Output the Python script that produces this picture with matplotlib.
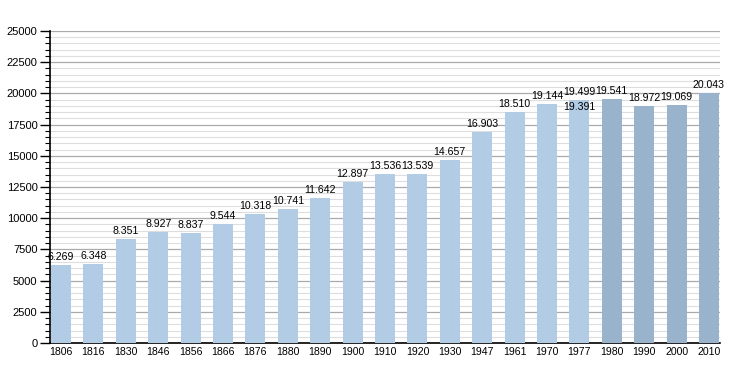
import matplotlib.pyplot as plt
from matplotlib.ticker import MultipleLocator

years = ["1806", "1816", "1830", "1846", "1856", "1866", "1876", "1880", "1890",
         "1900", "1910", "1920", "1930", "1947", "1961", "1970", "1977", "1980",
         "1990", "2000", "2010"]
population = [6269, 6348, 8351, 8927, 8837, 9544, 10318, 10741, 11642,
              12897, 13536, 13539, 14657, 16903, 18510, 19144, 19499, 19541,
              18972, 19069, 20043]
# second value for 1977 (shown inside the bar)
extra_year = "1977"
extra_value = 19391

LIGHT = "#b3cce6"
DARK = "#99b3cc"


def fmt(v):
    return f"{v:,}".replace(",", ".")


def main():
    plt.rcParams["font.family"] = ["Liberation Sans", "DejaVu Sans"]
    fig = plt.figure(figsize=(7.5, 3.73), dpi=100)
    ax = fig.add_axes([0.0667, 0.0804, 0.8933, 0.8365])

    x = list(range(len(years)))
    colors = [DARK if int(y) >= 1980 else LIGHT for y in years]
    ax.bar(x, population, width=0.62, color=colors, zorder=3)

    for xi, v in zip(x, population):
        ax.text(xi, v + 220, fmt(v), ha="center", va="bottom", fontsize=7.6, zorder=4)
    xi = years.index(extra_year)
    ax.text(xi, extra_value - 80, fmt(extra_value), ha="center", va="top",
            fontsize=7.6, zorder=4)

    ax.set_xlim(-0.34, len(years) - 1 + 0.34)
    ax.set_ylim(0, 25000)
    ax.set_xticks(x)
    ax.set_xticklabels(years, fontsize=7.6)
    ax.yaxis.set_major_locator(MultipleLocator(2500))
    ax.yaxis.set_minor_locator(MultipleLocator(500))
    ax.tick_params(axis="y", labelsize=8, length=7, width=1, pad=2)
    ax.tick_params(axis="y", which="minor", length=3.4, width=0.8)
    ax.tick_params(axis="x", length=0, pad=3)

    ax.grid(True, axis="y", which="major", color="#aaaaaa", linewidth=0.9, zorder=0)
    ax.grid(True, axis="y", which="minor", color="#dedede", linewidth=0.8, zorder=0)
    ax.set_axisbelow(True)

    for side in ("top", "right"):
        ax.spines[side].set_visible(False)
    ax.spines["left"].set_linewidth(1.2)
    ax.spines["bottom"].set_linewidth(1.2)

    fig.savefig("out.png", dpi=100)


if __name__ == "__main__":
    main()
